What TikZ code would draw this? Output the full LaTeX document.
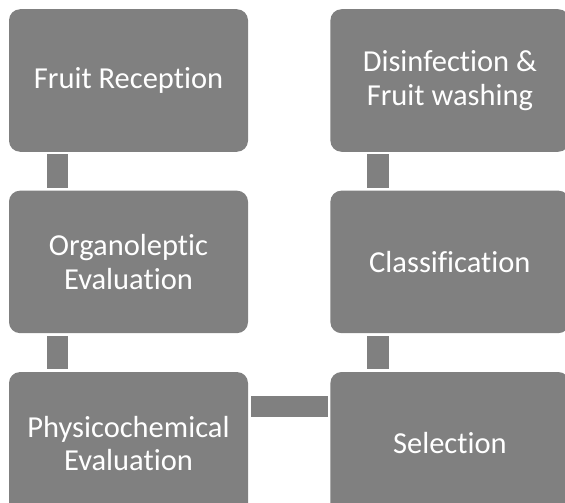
\documentclass[tikz,border=0pt]{standalone}
\usepackage{fontspec}
\setmainfont{Carlito}[Ligatures={NoCommon}]
\usepackage{tikz}
\usetikzlibrary{shapes,positioning}
\definecolor{boxgray}{RGB}{128,128,128}
\tikzstyle{stepGR} = [rectangle, fill=boxgray, text=white, align=center, rounded corners=11pt, minimum width=239pt, minimum height=142.5pt, inner sep=0pt]
\tikzstyle{link} = [fill=boxgray]

\begin{document}
\begin{tikzpicture}[node distance = 38.5pt,
  font=\fontsize{30.5pt}{33.5pt}\selectfont
  ]
    \useasboundingbox (0,0) rectangle (565pt,-503pt);

    % nodes
    \node [stepGR] (recep) at (128.5pt,-80.5pt) {Fruit Reception};
    \node [stepGR, below=of recep] (organo) {Organoleptic\\Evaluation};
    \node [stepGR, below=of organo] (physico) {Physicochemical\\Evaluation};
    \node [stepGR, right=82pt of physico] (select) {Selection};
    \node [stepGR, right=82pt of organo] (classif) {Classification};
    \node [stepGR, right=82pt of recep] (disinf) {Disinfection \&\\Fruit washing};

    % edges
    \path [link] ([xshift=38pt,yshift=-2.5pt]recep.south west) rectangle ([xshift=59pt,yshift=2.5pt]organo.north west);
    \path [link] ([xshift=38pt,yshift=-2.5pt]organo.south west) rectangle ([xshift=59pt,yshift=2.5pt]physico.north west);
    \path [link] ([xshift=2.7pt,yshift=-24.3pt]physico.north east) rectangle ([xshift=-2.7pt,yshift=-45.3pt]select.north west);
    \path [link] ([xshift=37pt,yshift=2.5pt]select.north west) rectangle ([xshift=59pt,yshift=-2.5pt]classif.south west);
    \path [link] ([xshift=37pt,yshift=2.5pt]classif.north west) rectangle ([xshift=59pt,yshift=-2.5pt]disinf.south west);

  \end{tikzpicture}
\end{document}
